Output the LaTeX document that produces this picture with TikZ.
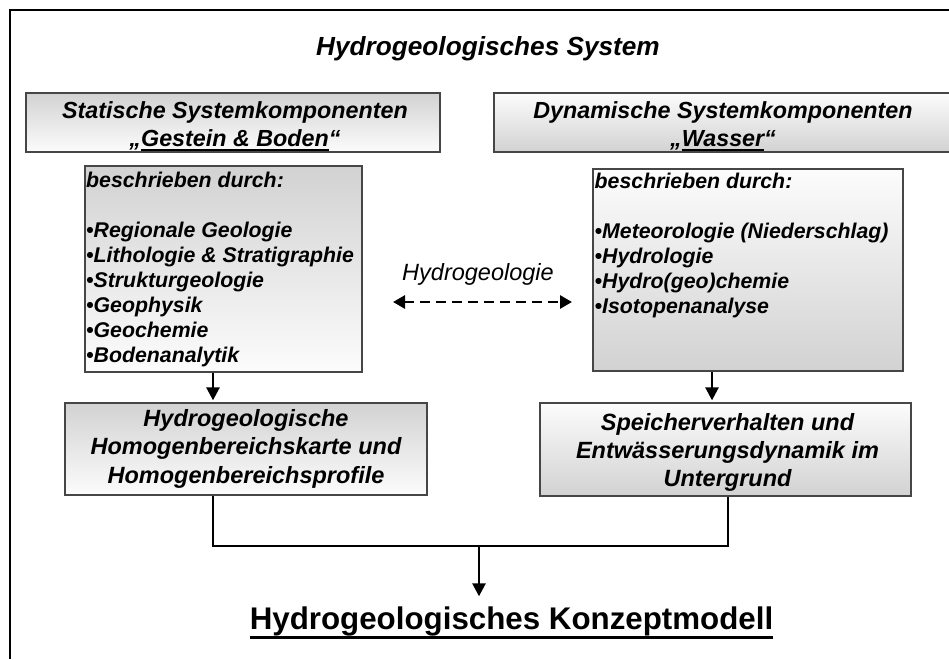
\documentclass[tikz,border=0pt]{standalone}
\usepackage{fontspec}
\setmainfont{Liberation Sans}
\usetikzlibrary{arrows.meta}
\definecolor{boxgray}{RGB}{210,210,210}
\definecolor{boxlight}{RGB}{252,252,252}
\definecolor{boxline}{RGB}{70,70,70}
\newsavebox\myulbox
\newcommand\myul[1]{\sbox\myulbox{#1}\rlap{\rule[-4.8pt]{\wd\myulbox}{2pt}}\usebox\myulbox}
\tikzset{
  boxbase/.style={draw=boxline, line width=1.3pt, inner sep=0pt},
  graytop/.style={boxbase, top color=boxgray, bottom color=boxlight},
  graybot/.style={boxbase, top color=boxlight, bottom color=boxgray},
  hdtxt/.style={inner sep=0pt, anchor=base, font=\bfseries\itshape\fontsize{23.3}{28}\selectfont},
  bxtxt/.style={inner sep=0pt, anchor=base, font=\bfseries\itshape\fontsize{23.5}{28.2}\selectfont},
  lsttxt/.style={inner sep=0pt, anchor=base west, font=\bfseries\itshape\fontsize{21.3}{25}\selectfont},
  arr/.style={line width=2.6pt, -{Triangle[length=13pt,width=13pt]}, shorten >=2pt},
  darr/.style={line width=2.8pt, dash pattern=on 10pt off 6pt, {Triangle[length=12pt,width=13pt]}-{Triangle[length=12pt,width=13pt]}},
  conn/.style={line width=2.6pt}
}
\begin{document}
\begin{tikzpicture}[x=1pt,y=-1pt]
\useasboundingbox[fill=white] (0,0) rectangle (949,659);
% frame
\draw[line width=2pt] (949,10) -- (10,10) -- (10,659);
% title
\node[font=\bfseries\itshape\fontsize{26.2}{31}\selectfont, inner sep=0pt, anchor=base] (title) at (488,55) {Hydrogeologisches System};
% header boxes
\node[graytop, minimum width=414pt, minimum height=59pt] (h1) at (233,122.5) {};
\node[graybot, minimum width=458pt, minimum height=59pt] (h2) at (723,122.5) {};
\node[hdtxt] (h1t) at (235,118.5) {\begin{tabular}[t]{@{}c@{}}Statische Systemkomponenten\\ „\myul{Gestein \& Boden}“\end{tabular}};
\node[hdtxt] (h2t) at (723,118.3) {\begin{tabular}[t]{@{}c@{}}Dynamische Systemkomponenten\\ „\myul{Wasser}“\end{tabular}};
% list boxes
\node[graytop, minimum width=277pt, minimum height=206pt] (l1) at (223.5,269) {};
\node[graybot, minimum width=310pt, minimum height=202pt] (l2) at (748,270) {};
\node[lsttxt] (l1t) at (86,187) {\begin{tabular}[t]{@{}l@{}}beschrieben durch:\\ \mbox{}\\ •Regionale Geologie\\ •Lithologie \& Stratigraphie\\ •Strukturgeologie\\ •Geophysik\\ •Geochemie\\ •Bodenanalytik\end{tabular}};
\node[lsttxt] (l2t) at (594.5,188.3) {\begin{tabular}[t]{@{}l@{}}beschrieben durch:\\ \mbox{}\\ •Meteorologie (Niederschlag)\\ •Hydrologie\\ •Hydro(geo)chemie\\ •Isotopenanalyse\end{tabular}};
% bottom boxes
\node[graytop, minimum width=362pt, minimum height=92pt] (b1) at (246,449) {};
\node[graybot, minimum width=371pt, minimum height=93pt] (b2) at (725.5,449.5) {};
\node[bxtxt] (b1t) at (246,426.7) {\begin{tabular}[t]{@{}c@{}}Hydrogeologische\\ Homogenbereichskarte und\\ Homogenbereichsprofile\end{tabular}};
\node[bxtxt] (b2t) at (727.5,430) {\begin{tabular}[t]{@{}c@{}}Speicherverhalten und\\ Entwässerungsdynamik im\\ Untergrund\end{tabular}};
% middle label and dashed arrow
\node[font=\itshape\fontsize{23.5}{28}\selectfont, inner sep=0pt, anchor=base] (hg) at (478,280) {Hydrogeologie};
\coordinate (da1) at (393,302);
\coordinate (da2) at (572,302);
\draw[darr] (da1) -- (da2);
% arrows down
\draw[arr] ([xshift=-10.5pt]l1.south) -- ([xshift=-10.5pt]l1.south |- b1.north);
\draw[arr] ([xshift=-36pt]l2.south) -- ([xshift=-36pt]l2.south |- b2.north);
% final
\node[font=\bfseries\fontsize{31.3}{37}\selectfont, inner sep=0pt, outer xsep=0pt, outer ysep=8pt, anchor=base] (fin) at (511.5,629) {Hydrogeologisches Konzeptmodell};
\draw[line width=3pt] ([yshift=-8pt]fin.base west) -- ([yshift=-8pt]fin.base east);
\coordinate (j) at (479,546);
\draw[conn] ([xshift=-33pt]b1.south) |- (j) -| ([xshift=2.5pt]b2.south);
\draw[arr] (j) -- (j |- fin.north);
\end{tikzpicture}
\end{document}
